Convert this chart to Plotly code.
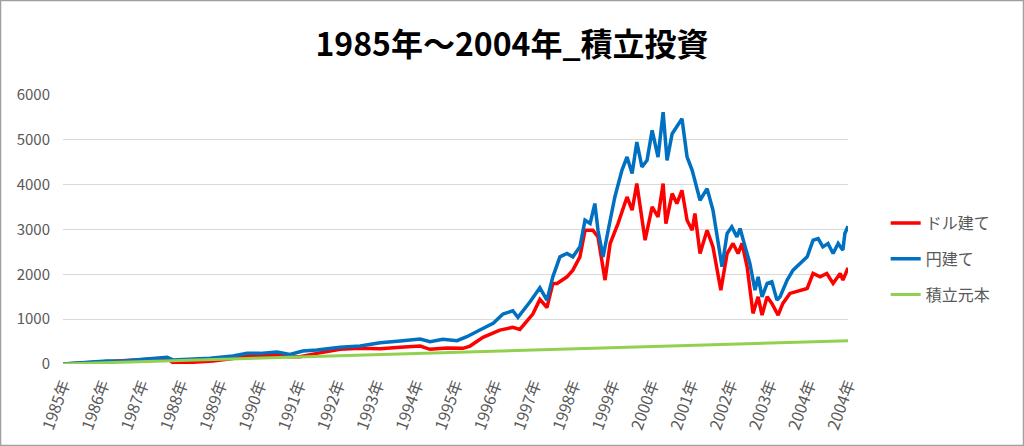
import plotly.graph_objects as go

# x position = years elapsed since start of 1985 (tick index)
tick_labels = ["1985年", "1986年", "1987年", "1988年", "1989年", "1990年", "1991年",
               "1992年", "1993年", "1994年", "1995年", "1996年", "1997年", "1998年",
               "1999年", "2000年", "2001年", "2002年", "2003年", "2004年", "2004年"]

# ドル建て (USD-based)
usd_t = [0.00, 1.12, 2.14, 2.65, 2.80, 3.24, 3.82, 4.33, 4.69, 5.45, 5.78, 6.04, 6.47,
         7.06, 7.57, 8.08, 8.59, 9.10, 9.35, 9.78, 10.19, 10.37, 10.70, 11.13, 11.46,
         11.64, 11.97, 12.15, 12.33, 12.48, 12.59, 12.84, 12.99, 13.17, 13.30, 13.50,
         13.63, 13.81, 13.94, 14.14, 14.37, 14.50, 14.62, 14.75, 14.83, 15.01, 15.16,
         15.29, 15.36, 15.52, 15.64, 15.77, 15.90, 16.03, 16.10, 16.23, 16.41, 16.56,
         16.76, 16.92, 17.07, 17.20, 17.30, 17.43, 17.58, 17.71, 17.81, 17.94, 18.06,
         18.22, 18.34, 18.52, 18.78, 18.96, 19.11, 19.29, 19.46, 19.62, 19.80, 19.87, 20.00]
usd_v = [0, 50, 90, 130, 30, 35, 67, 120, 178, 200, 163, 163, 237,
         327, 350, 341, 371, 400, 327, 356, 349, 400, 594, 757, 817,
         772, 1113, 1440, 1260, 1797, 1797, 1945, 2093, 2390, 2984, 2984,
         2835, 1871, 2688, 3133, 3726, 3430, 4024, 3281, 2761, 3503, 3281,
         4024, 3133, 3801, 3579, 3875, 3207, 2984, 3355, 2465, 2984, 2613,
         1648, 2465, 2688, 2465, 2688, 2168, 1129, 1499, 1091, 1499, 1351,
         1091, 1351, 1574, 1648, 1685, 2019, 1945, 2019, 1797, 2019, 1871, 2145]

# 円建て (JPY-based)
jpy_t = [0.00, 1.12, 1.45, 2.14, 2.65, 2.80, 3.31, 3.75, 4.33, 4.69, 5.02, 5.45, 5.78,
         6.11, 6.47, 7.06, 7.57, 8.08, 8.59, 9.10, 9.35, 9.68, 10.04, 10.29, 10.62,
         10.96, 11.21, 11.46, 11.59, 11.90, 12.15, 12.33, 12.48, 12.66, 12.84, 12.99,
         13.17, 13.30, 13.43, 13.55, 13.63, 13.76, 13.89, 14.06, 14.24, 14.37, 14.50,
         14.62, 14.75, 14.88, 15.01, 15.16, 15.29, 15.39, 15.52, 15.64, 15.77, 15.90,
         16.03, 16.23, 16.41, 16.56, 16.79, 16.92, 17.04, 17.17, 17.25, 17.38, 17.50,
         17.63, 17.71, 17.81, 17.94, 18.06, 18.19, 18.27, 18.45, 18.60, 18.78, 18.96,
         19.11, 19.24, 19.36, 19.49, 19.62, 19.75, 19.87, 19.92, 20.00]
jpy_v = [0, 67, 60, 104, 150, 90, 111, 126, 178, 237, 237, 267, 215,
         290, 312, 372, 400, 475, 512, 557, 497, 550, 520, 608, 757,
         906, 1113, 1187, 1040, 1387, 1700, 1425, 1945, 2390, 2465, 2390,
         2613, 3207, 3133, 3579, 2984, 2390, 2984, 3726, 4320, 4617, 4247,
         4951, 4394, 4543, 5211, 4617, 5619, 4543, 5137, 5285, 5470, 4617,
         4320, 3652, 3912, 3430, 2168, 2910, 3059, 2835, 3022, 2613, 2242,
         1648, 1945, 1499, 1797, 1833, 1425, 1499, 1871, 2093, 2242, 2390,
         2761, 2798, 2613, 2688, 2465, 2688, 2539, 2910, 3073]

# 積立元本 (principal)
principal_t = [0, 1, 2, 3, 4, 5, 6, 7, 8, 9, 10, 11, 12, 13, 14, 15, 16, 17, 18, 19, 20]
principal_v = [0, 26, 52, 78, 104, 130, 156, 182, 208, 234, 260, 286, 312, 338, 364,
               390, 416, 442, 468, 494, 520]

y_ticks = [0, 1000, 2000, 3000, 4000, 5000, 6000]

FONT = "Noto Sans CJK JP"
GRAY = "#595959"

fig = go.Figure()
fig.add_trace(go.Scatter(x=usd_t, y=usd_v, mode="lines", name="ドル建て",
                         legendgroup="a", line=dict(color="#FF0000", width=3.5)))
fig.add_trace(go.Scatter(x=jpy_t, y=jpy_v, mode="lines", name="円建て",
                         legendgroup="b", line=dict(color="#0070C0", width=3.5)))
fig.add_trace(go.Scatter(x=principal_t, y=principal_v, mode="lines", name="積立元本",
                         legendgroup="c", line=dict(color="#92D050", width=3)))

fig.update_layout(
    width=1024, height=446,
    margin=dict(l=63, r=176, t=95, b=82, autoexpand=False),
    paper_bgcolor="white", plot_bgcolor="white",
    title=dict(text="<b>1985年～2004年_積立投資</b>", x=0.5, xref="container",
               xanchor="center", y=0.9, yref="container", yanchor="middle",
               font=dict(family=FONT, size=32, color="black")),
    font=dict(family=FONT, color=GRAY),
    showlegend=True,
    legend=dict(x=1.048, xanchor="left", y=0.39, yanchor="middle",
                font=dict(family=FONT, size=16, color=GRAY),
                tracegroupgap=12, bgcolor="rgba(0,0,0,0)"),
    shapes=[dict(type="rect", xref="paper", yref="paper",
                 x0=-0.0796, x1=1.2236, y0=-0.303, y1=1.3513,
                 line=dict(color="#A0A0A0", width=1.5), layer="below")],
)
fig.update_xaxes(range=[0, 20], tickmode="array",
                 tickvals=list(range(len(tick_labels))), ticktext=tick_labels,
                 tickangle=-70, showgrid=False, zeroline=False, showline=False,
                 ticks="", ticklabelstandoff=7,
                 tickfont=dict(family=FONT, size=16, color=GRAY))
fig.update_yaxes(range=[0, 6000], tickmode="array", tickvals=y_ticks,
                 showgrid=True, gridcolor="#D9D9D9", gridwidth=1.3,
                 zeroline=False, showline=False, ticks="",
                 ticklabelstandoff=12,
                 tickfont=dict(family=FONT, size=15, color=GRAY))

fig.write_html("out.html", config={"displayModeBar": False},
               post_script="document.body.style.margin='0';")
